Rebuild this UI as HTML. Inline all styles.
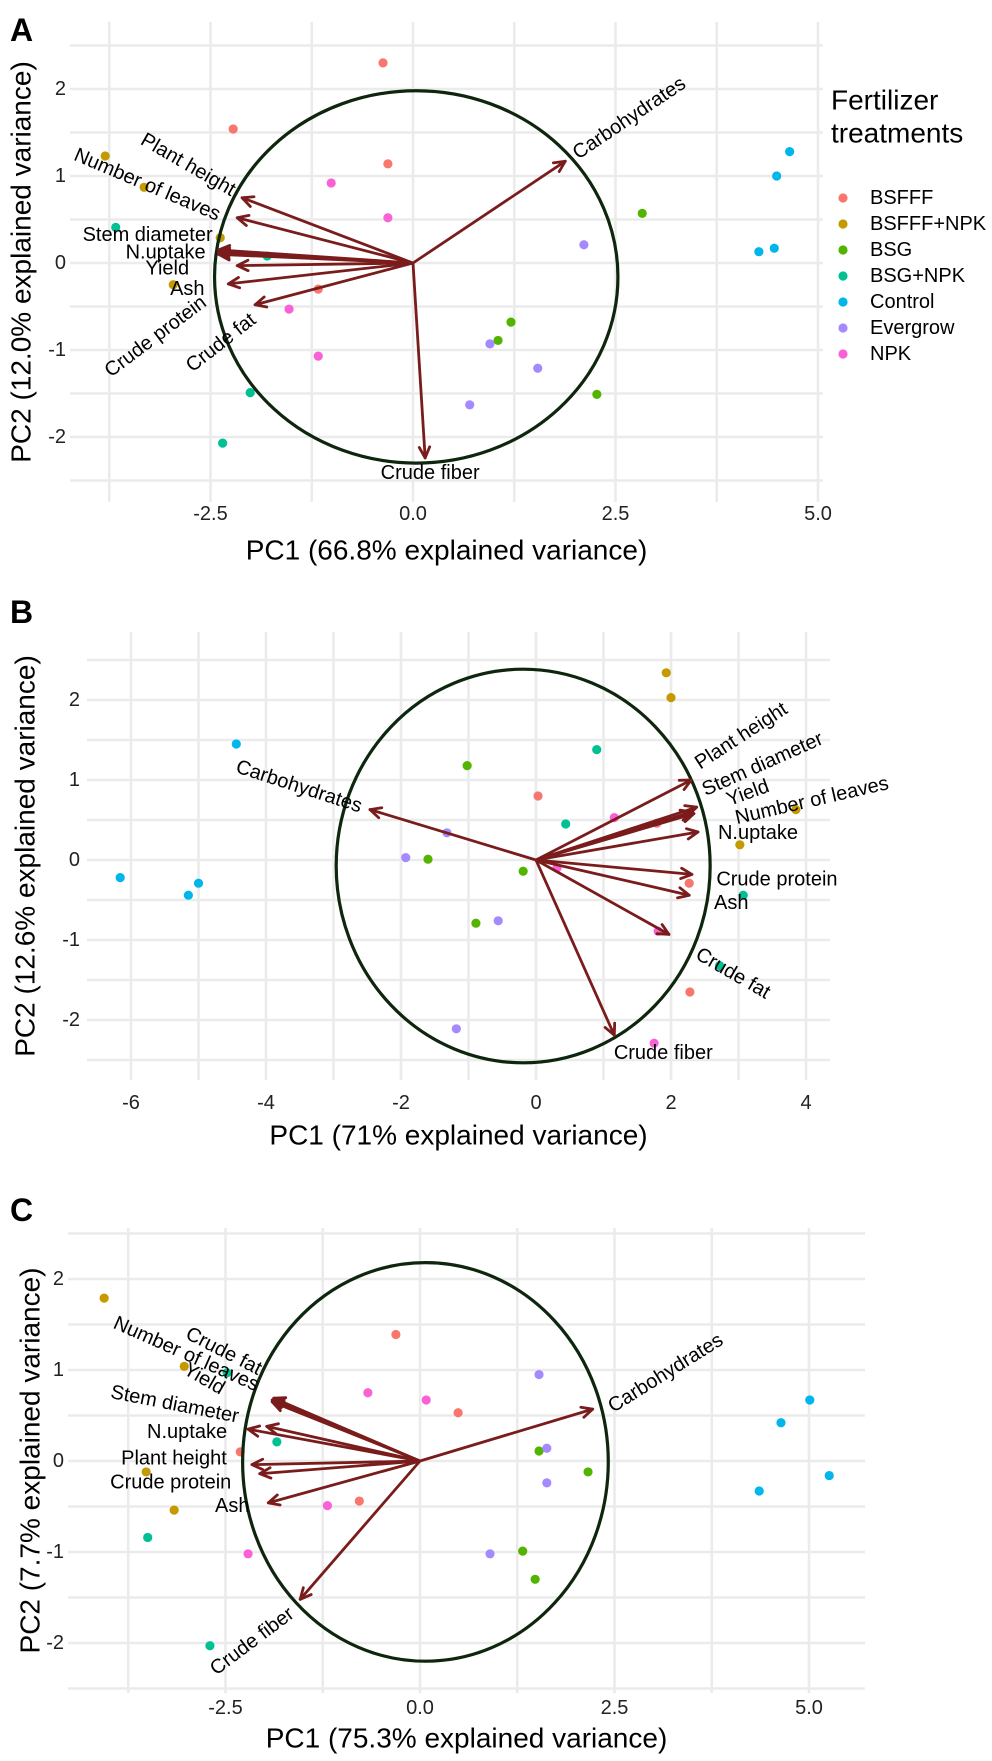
<!DOCTYPE html>
<html><head><meta charset="utf-8"><style>
body{margin:0;background:#fff}
svg text{font-family:"Liberation Sans",Arial,sans-serif}
</style></head><body>
<svg id="fig" xmlns="http://www.w3.org/2000/svg" width="992" height="1756" viewBox="0 0 992 1756">
<rect width="992" height="1756" fill="#fff"/>
<g id="legend">
<text x="831" y="100" font-size="28" dominant-baseline="central">Fertilizer</text>
<text x="831" y="133" font-size="28" dominant-baseline="central">treatments</text>
</g>
</svg>
<script>
const groupNames = ["BSFFF","BSFFF+NPK","BSG","BSG+NPK","Control","Evergrow","NPK"];
const groupColors = ["#F8766D","#C49A00","#53B400","#00C094","#00B6EB","#A58AFF","#FB61D7"];

// Panel A data
const aGroup = [0,0,0,0, 1,1,1,1, 2,2,2,2, 3,3,3,3, 4,4,4,4, 5,5,5,5, 6,6,6,6];
const aPC1 = [-0.37,-2.22,-0.31,-1.17, -3.80,-3.32,-2.38,-2.96, 2.83,1.21,1.05,2.27, -3.67,-1.80,-2.01,-2.35, 4.65,4.49,4.27,4.46, 2.11,0.95,1.54,0.70, -1.01,-0.31,-1.53,-1.17];
const aPC2 = [2.30,1.54,1.14,-0.30, 1.23,0.87,0.29,-0.25, 0.57,-0.68,-0.89,-1.51, 0.41,0.08,-1.49,-2.07, 1.28,1.00,0.13,0.17, 0.21,-0.93,-1.21,-1.63, 0.92,0.52,-0.53,-1.07];
const aVars = ["Plant height","Number of leaves","Stem diameter","N.uptake","Yield","Ash","Crude protein","Crude fat","Carbohydrates","Crude fiber"];
const aLoadX = [-2.11,-2.17,-2.40,-2.40,-2.17,-2.28,-2.40,-1.95,1.88,0.15];
const aLoadY = [0.75,0.52,0.15,0.10,-0.03,-0.24,0.12,-0.48,1.17,-2.24];
const aCircle = [0.04,-0.16,2.49,2.14];
const aXTicks = [-2.5,0,2.5,5];
const aXTickLabels = ["-2.5","0.0","2.5","5.0"];
const aYTicks = [-2,-1,0,1,2];
const aYTickLabels = ["-2","-1","0","1","2"];

// Panel B data
const bGroup = aGroup.slice();
const bPC1 = [0.03,1.79,2.27,2.28, 1.93,2.00,3.85,3.02, -1.02,-1.60,-0.89,-0.19, 0.90,0.44,3.07,2.72, -4.44,-6.16,-5.15,-5.00, -1.32,-1.93,-0.56,-1.18, 1.16,0.31,1.81,1.75];
const bPC2 = [0.80,0.46,-0.29,-1.65, 2.34,2.03,0.63,0.19, 1.18,0.01,-0.79,-0.14, 1.38,0.45,-0.44,-1.32, 1.45,-0.22,-0.44,-0.29, 0.34,0.03,-0.76,-2.11, 0.53,-0.10,-0.89,-2.29];
const bVars = ["Plant height","Stem diameter","Yield","Number of leaves","N.uptake","Crude protein","Ash","Crude fat","Crude fiber","Carbohydrates"];
const bLoadX = [2.30,2.38,2.31,2.34,2.40,2.31,2.27,1.97,1.16,-2.46];
const bLoadY = [1.00,0.66,0.60,0.58,0.35,-0.18,-0.44,-0.93,-2.19,0.63];
const bCircle = [-0.19,-0.075,2.77,2.46];
const bXTicks = [-6,-4,-2,0,2,4];
const bXTickLabels = ["-6","-4","-2","0","2","4"];
const bYTicks = [-2,-1,0,1,2];
const bYTickLabels = ["-2","-1","0","1","2"];

// Panel C data
const cGroup = aGroup.slice();
const cPC1 = [-0.31,-2.31,-0.78,0.49, -4.06,-3.03,-3.52,-3.16, 1.53,2.16,1.32,1.48, -2.48,-1.84,-3.50,-2.70, 5.01,4.64,5.26,4.36, 1.53,1.63,1.63,0.90, -0.67,0.08,-1.19,-2.21];
const cPC2 = [1.39,0.10,-0.44,0.53, 1.79,1.04,-0.12,-0.54, 0.11,-0.12,-0.99,-1.30, 0.97,0.21,-0.84,-2.03, 0.67,0.42,-0.16,-0.33, 0.95,0.14,-0.24,-1.02, 0.75,0.67,-0.49,-1.02];
const cVars = ["Number of leaves","Crude fat","Yield","Stem diameter","N.uptake","Plant height","Crude protein","Ash","Crude fiber","Carbohydrates"];
const cLoadX = [-1.90,-1.88,-1.90,-1.97,-2.21,-2.16,-2.06,-1.95,-1.54,2.22];
const cLoadY = [0.67,0.69,0.65,0.38,0.35,-0.04,-0.14,-0.46,-1.52,0.57];
const cCircle = [0.07,-0.01,2.35,2.19];
const cXTicks = [-2.5,0,2.5,5];
const cXTickLabels = ["-2.5","0.0","2.5","5.0"];
const cYTicks = [-2,-1,0,1,2];
const cYTickLabels = ["-2","-1","0","1","2"];

const NS = "http://www.w3.org/2000/svg";
const svg = document.getElementById('fig');
function mk(tag, attrs, parent){ const e=document.createElementNS(NS,tag); for(const k in attrs) e.setAttribute(k,attrs[k]); (parent||svg).appendChild(e); return e; }

const panels = [
 {id:'a', letter:'A', letterY:30, x0:413,kx:81,y0:263,ky:87, left:70,right:823,top:22,bottom:502,
  xMinor:[-3.75,-1.25,1.25,3.75], yMinor:[-2.5,-1.5,-0.5,0.5,1.5,2.5], yLabRight:66, xLabY:514, xTitleY:550, yTitleX:21,
  xTitle:"PC1 (66.8% explained variance)", yTitle:"PC2 (12.0% explained variance)",
  group:aGroup, pc1:aPC1, pc2:aPC2, vars:aVars, lx:aLoadX, ly:aLoadY, circle:aCircle, xt:aXTicks, xtl:aXTickLabels, yt:aYTicks, ytl:aYTickLabels,
  labOff:[[-54,-33,30],[-90,-33,23],[-71,-15,0],[-53,-2,0],[-70,3,0],[-41,5,0],[-63,84,-37],[-34,38,-38],[64,-43,-34],[5,15,0]]},
 {id:'b', letter:'B', letterY:612, x0:536,kx:67.5,y0:860,ky:80, left:87,right:830,top:632,bottom:1080,
  xMinor:[-5,-3,-1,1,3], yMinor:[-2.5,-1.5,-0.5,0.5,1.5,2.5], yLabRight:80, xLabY:1103, xTitleY:1135, yTitleX:25,
  xTitle:"PC1 (71% explained variance)", yTitle:"PC2 (12.6% explained variance)",
  group:bGroup, pc1:bPC1, pc2:bPC2, vars:bVars, lx:bLoadX, ly:bLoadY, circle:bCircle, xt:bXTicks, xtl:bXTickLabels, yt:bYTicks, ytl:bYTickLabels,
  labOff:[[50,-44,-33],[66,-43,-24],[56,-19,-20],[118,-13,-13],[60,1,0],[85,5,0],[42,8,0],[64,39,30],[49,18,0],[-71,-23,18]]},
 {id:'c', letter:'C', letterY:1210, x0:420,kx:77.8,y0:1461,ky:91, left:68,right:865,top:1228,bottom:1693,
  xMinor:[-3.75,-1.25,1.25,3.75], yMinor:[-2.5,-1.5,-0.5,0.5,1.5,2.5], yLabRight:64, xLabY:1708, xTitleY:1738, yTitleX:30,
  xTitle:"PC1 (75.3% explained variance)", yTitle:"PC2 (7.7% explained variance)",
  group:cGroup, pc1:cPC1, pc2:cPC2, vars:cVars, lx:cLoadX, ly:cLoadY, circle:cCircle, xt:cXTicks, xtl:cXTickLabels, yt:cYTicks, ytl:cYTickLabels,
  labOff:[[-86,-46,24],[-50,-47,27],[-68,-23,30],[-92,-22,11],[-61,3,0],[-78,-6,0],[-89,9,0],[-36,3,0],[-48,42,-37],[73,-36,-32]]}
];

panels.forEach(p=>{
  const X = v=>p.x0+v*p.kx, Y = v=>p.y0-v*p.ky;
  const g = mk('g',{});
  
  
  const lt = mk('text',{x:10,y:p.letterY,'font-size':32,'font-weight':'bold','dominant-baseline':'central'},g);
  lt.textContent=p.letter;
  
  
  const grid = mk('g',{stroke:'#ebebeb','stroke-width':2.6},g);
  
  
  p.xt.concat(p.xMinor).forEach(v=>{ const l=mk('line',{x1:X(v),x2:X(v),y1:p.top,y2:p.bottom},grid);
      });
  p.yt.concat(p.yMinor).forEach(v=>{ const l=mk('line',{y1:Y(v),y2:Y(v),x1:p.left,x2:p.right},grid);
      });
  p.xt.forEach((v,i)=>{ const t=mk('text',{x:X(v),y:p.xLabY,'font-size':20,'text-anchor':'middle','dominant-baseline':'central',fill:'#222'},g);
    t.textContent=p.xtl[i];   });
  p.yt.forEach((v,i)=>{ const t=mk('text',{x:p.yLabRight,y:Y(v),'font-size':20,'text-anchor':'end','dominant-baseline':'central',fill:'#222'},g);
    t.textContent=p.ytl[i];   });
  const xt = mk('text',{x:(p.left+p.right)/2,y:p.xTitleY,'font-size':28,'text-anchor':'middle','dominant-baseline':'central'},g);
  xt.textContent=p.xTitle;  
  const cy=(p.top+p.bottom)/2;
  const yt = mk('text',{x:p.yTitleX,y:cy,'font-size':28,'text-anchor':'middle','dominant-baseline':'central',transform:`rotate(-90 ${p.yTitleX} ${cy})`},g);
  yt.textContent=p.yTitle;  
  // points
  p.pc1.forEach((v,i)=>{ const c=mk('circle',{cx:X(v),cy:Y(p.pc2[i]),r:4.6,fill:groupColors[p.group[i]]},g);
    
     });
  // circle
  const el = mk('ellipse',{cx:X(p.circle[0]),cy:Y(p.circle[1]),rx:p.circle[2]*p.kx,ry:p.circle[3]*p.ky,fill:'none',stroke:'#0d260d','stroke-width':3.2},g);
  
  
  // arrows
  p.vars.forEach((name,i)=>{
    const tx=X(p.lx[i]), ty=Y(p.ly[i]), ox=X(0), oy=Y(0);
    const ag=mk('g',{stroke:'#7a1c1c','stroke-width':2.8,fill:'none','stroke-linecap':'round','stroke-linejoin':'round'},g);
    
    
    mk('line',{x1:ox,y1:oy,x2:tx,y2:ty},ag);
    const ang=Math.atan2(ty-oy,tx-ox), L=12, w=0.45;
    const p1=[tx-L*Math.cos(ang-w),ty-L*Math.sin(ang-w)], p2=[tx-L*Math.cos(ang+w),ty-L*Math.sin(ang+w)];
    mk('polyline',{points:`${p1[0]},${p1[1]} ${tx},${ty} ${p2[0]},${p2[1]}`},ag);
    const o=p.labOff[i], lx=tx+o[0], ly=ty+o[1];
    const t=mk('text',{x:lx,y:ly,'font-size':20,'text-anchor':'middle','dominant-baseline':'central',transform:`rotate(${o[2]} ${lx} ${ly})`},g);
    t.textContent=name;
    
    
  });
});

// legend entries
const legend=document.getElementById('legend');
groupNames.forEach((n,i)=>{
  const y=198+i*26.0;
  const c=mk('circle',{cx:843,cy:y,r:4.6,fill:groupColors[i]},legend);
  
  
  const t=mk('text',{x:870,y:y,'font-size':20,'dominant-baseline':'central'},legend);
  t.textContent=n;
  
  
});
</script>
</body></html>
